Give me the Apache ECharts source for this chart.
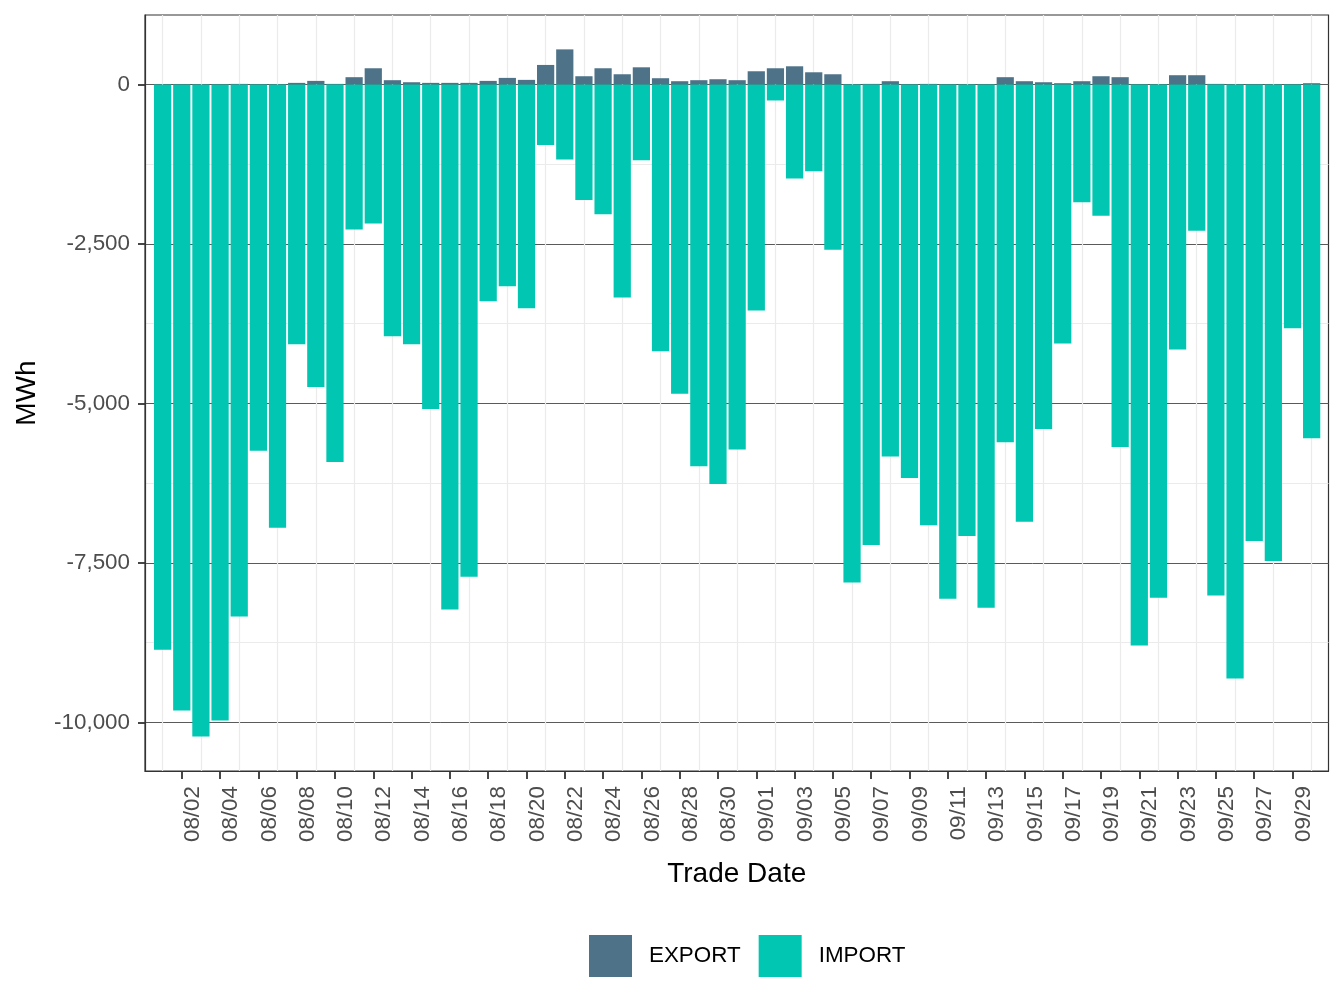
<!DOCTYPE html>
<html><head><meta charset="utf-8">
<script src="https://cdn.jsdelivr.net/npm/echarts@6/dist/echarts.min.js"></script>
<style>html,body{margin:0;padding:0;background:#fff}#c{width:1344px;height:1008px}</style>
</head><body><div id="c"></div>
<script>
const dates = ["08/01","08/02","08/03","08/04","08/05","08/06","08/07","08/08","08/09","08/10",
"08/11","08/12","08/13","08/14","08/15","08/16","08/17","08/18","08/19","08/20",
"08/21","08/22","08/23","08/24","08/25","08/26","08/27","08/28","08/29","08/30","08/31",
"09/01","09/02","09/03","09/04","09/05","09/06","09/07","09/08","09/09","09/10",
"09/11","09/12","09/13","09/14","09/15","09/16","09/17","09/18","09/19","09/20",
"09/21","09/22","09/23","09/24","09/25","09/26","09/27","09/28","09/29","09/30"];
const exportMWh = [0,0,0,0,10,0,0,26,57,10,
115,255,68,36,26,26,26,57,104,73,
307,551,130,255,161,270,99,52,68,83,68,
208,255,286,192,161,0,10,52,0,10,
0,0,0,115,52,36,21,52,130,115,
0,0,146,146,10,0,0,0,0,21];
const importMWh = [-8861,-9814,-10223,-9969,-8341,-5743,-6949,-4072,-4740,-5916,
-2271,-2178,-3948,-4072,-5087,-8230,-7716,-3397,-3162,-3509,
-948,-1176,-1810,-2032,-3337,-1188,-4181,-4846,-5985,-6263,-5721,
-3541,-250,-1472,-1361,-2592,-7808,-7217,-5831,-6170,-6910,
-8060,-7077,-8203,-5608,-6855,-5401,-4059,-1845,-2056,-5682,
-8794,-8044,-4154,-2294,-8012,-9312,-7156,-7468,-3821,-5544];
const xLabelIdx = [1,3,5,7,9,11,13,15,17,19,21,23,25,27,29,31,33,35,37,39,41,43,45,47,49,51,53,55,57,59];
const xMinorIdx = [0,2,4,6,8,10,12,14,16,18,20,22,24,26,28,30,32,34,36,38,40,42,44,46,48,50,52,54,56,58,60];
const yTicks = [-10000,-7500,-5000,-2500,0];
const yMinor = [-8750,-6250,-3750,-1250];

const FONT = "'Liberation Sans', Arial, Helvetica, sans-serif";
const X_MIN = -0.92, X_MAX = 60.88, Y_MIN = -10762, Y_MAX = 1090;
function fmt(v){
  const s = Math.abs(v).toString().replace(/\B(?=(\d{3})+(?!\d))/g, ",");
  return (v < 0 ? "-" : "") + s;
}
const chart = echarts.init(document.getElementById('c'), null, {renderer:'canvas'});
chart.setOption({
  animation:false,
  backgroundColor:'#fff',
  textStyle:{fontFamily:FONT},
  grid:{left:145, right:15.5, top:15, bottom:237, show:true, borderColor:'#333', borderWidth:1.2, backgroundColor:'rgba(0,0,0,0)', containLabel:false},
  legend:{left:584, top:930, itemWidth:43, itemHeight:42, itemGap:18, icon:'rect',
    textStyle:{fontSize:22.4, color:'#000', fontFamily:FONT, padding:[0,0,0,12]},
    data:['EXPORT','IMPORT']},
  xAxis:[
    {type:'value', min:X_MIN, max:X_MAX, position:'bottom',
     axisLine:{show:true, onZero:false, lineStyle:{color:'#333', width:1.2}},
     axisTick:{show:true, length:8, customValues:xLabelIdx, lineStyle:{color:'#333', width:1.8}},
     axisLabel:{customValues:xLabelIdx, rotate:90, verticalAlign:'top', formatter:v=>dates[Math.round(v)],
       color:'#4d4d4d', fontSize:22.4, margin:15, fontFamily:FONT},
     splitLine:{show:false},
     name:'Trade Date', nameLocation:'middle', nameGap:89,
     nameTextStyle:{fontSize:28, color:'#000', fontFamily:FONT}},
    {type:'value', min:X_MIN, max:X_MAX, position:'top',
     axisLine:{show:false, onZero:false}, axisTick:{show:false, customValues:xMinorIdx}, axisLabel:{show:false},
     splitLine:{show:true, lineStyle:{color:'#ebebeb', width:1.2}}}
  ],
  yAxis:[
    {type:'value', min:Y_MIN, max:Y_MAX, position:'left', offset:0,
     axisLine:{show:true, onZero:false, lineStyle:{color:'#333', width:1.2}},
     axisTick:{show:true, inside:false, length:7, customValues:yTicks, lineStyle:{color:'#333', width:1.8}},
     axisLabel:{customValues:yTicks, formatter:fmt, color:'#4d4d4d', fontSize:22.4, margin:15, fontFamily:FONT},
     splitLine:{show:true, lineStyle:{color:'#5a5a5a', width:1}},
     name:'MWh', nameLocation:'middle', nameGap:104,
     nameTextStyle:{fontSize:28, color:'#000', fontFamily:FONT}},
    {type:'value', min:Y_MIN, max:Y_MAX, position:'right',
     axisLine:{show:false, onZero:false}, axisTick:{show:false, customValues:yMinor}, axisLabel:{show:false},
     splitLine:{show:true, lineStyle:{color:'#ebebeb', width:1.2}}}
  ],
  series:[
    {name:'EXPORT', type:'bar', xAxisIndex:0, yAxisIndex:0, barWidth:'90%', barGap:'-100%',
     itemStyle:{color:'#4e7389'}, data:exportMWh.map((v,i)=>[i,v])},
    {name:'IMPORT', type:'bar', xAxisIndex:0, yAxisIndex:0, barWidth:'90%', barGap:'-100%',
     itemStyle:{color:'#00c6b2'}, data:importMWh.map((v,i)=>[i,v])}
  ]
});
</script></body></html>
